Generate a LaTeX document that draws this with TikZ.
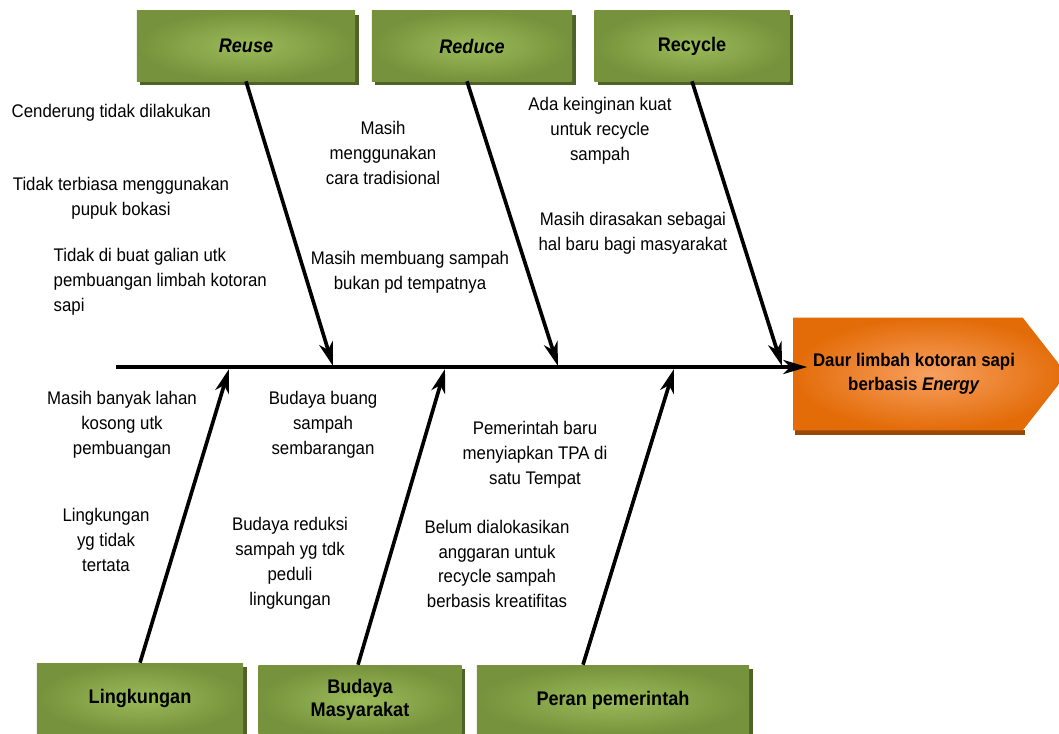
\documentclass[tikz,border=0pt]{standalone}
\usepackage{fontspec}
\setmainfont[FakeStretch=0.92]{Liberation Sans}
\usetikzlibrary{arrows.meta,calc,shadows,backgrounds}
\definecolor{boxGreen}{HTML}{9BBB59}
\definecolor{boxGreenDark}{HTML}{76923C}
\definecolor{boxGreenShadow}{HTML}{4F6228}
\definecolor{headOrange}{HTML}{F8A060}
\definecolor{headOrangeDark}{HTML}{E36C09}
\definecolor{headShadow}{HTML}{984807}
\tikzset{
  bone/.style={-{Stealth[length=17pt,width=10pt,inset=5pt]}, line width=2.6pt,
    draw=black},
  cause box/.style={inner color=boxGreen, outer color=boxGreenDark,
    minimum height=1.75cm, align=center, inner sep=2pt,
    font=\fontsize{14}{16}\selectfont\bfseries,
    general shadow={fill=boxGreenShadow, shadow xshift=2.5pt,
      shadow yshift=-3pt}},
  effect head/.style={minimum width=5.725cm, minimum height=2.8cm,
    align=center, inner sep=0pt, font=\fontsize{13}{17}\selectfont\bfseries},
  note/.style={align=center, inner sep=1pt,
    font=\fontsize{13}{17.7}\selectfont},
  note left/.style={note, align=left}
}
\begin{document}
\begin{tikzpicture}[x=0.025cm, y=-0.025cm]
  \useasboundingbox (0,0) rectangle (1059,733);
  % category boxes
  \node[cause box, minimum width=5.45cm] (reuse) at (246,46) {\textit{Reuse}};
  \node[cause box, minimum width=5cm] (reduce) at (472,46) {\textit{Reduce}};
  \node[cause box, minimum width=4.875cm] (recycle) at (692,46) {Recycle};
  \node[cause box, minimum width=5.15cm] (lingkungan) at (140,698) {Lingkungan};
  \node[cause box, minimum width=5.075cm] (budaya) at (360,700)
    {Budaya\\Masyarakat};
  \node[cause box, minimum width=6.8cm] (peran) at (613,700)
    {Peran pemerintah};
  % effect
  \node[effect head] (head) at (908,374)
    {\hspace*{0.3cm}Daur limbah kotoran sapi\\\hspace*{0.3cm}berbasis \textit{Energy}};
  \begin{scope}[on background layer]
    \fill[headShadow] ($(head.south west)+(2,0)$) rectangle
      ($(head.south east)+(2,5)$);
    \path[inner color=headOrange, outer color=headOrangeDark]
      (head.north west) -- (head.north east) -- ($(head.east)+(44,0)$)
      -- (head.south east) -- (head.south west) -- cycle;
  \end{scope}
  % spine and bones
  \coordinate (tail) at (116,367);
  \coordinate (r1) at (333,366);
  \coordinate (r2) at (558,366);
  \coordinate (r3) at (782,366);
  \coordinate (b1) at (229,369);
  \coordinate (b2) at (445,369);
  \coordinate (b3) at (674,369);
  \draw[bone, shorten >=-0.35cm] (tail) -- (head.west |- tail);
  \draw[bone] (reuse.south) -- (r1);
  \draw[bone] ([xshift=-0.125cm]reduce.south) -- (r2);
  \draw[bone] (recycle.south) -- (r3);
  \draw[bone] (lingkungan.north) -- (b1);
  \draw[bone] ([xshift=-0.05cm]budaya.north) -- (b2);
  \draw[bone] ([xshift=-0.75cm]peran.north) -- (b3);
  % causes
  \node[note, anchor=west] (reuse1) at (10,113) {Cenderung tidak dilakukan};
  \node[note] (reuse2) at (121,198) {Tidak terbiasa menggunakan\\pupuk bokasi};
  \node[note left, anchor=west] (reuse3) at (52,282)
    {Tidak di buat galian utk\\pembuangan limbah kotoran\\sapi};
  \node[note] (reduce1) at (383,153) {Masih\\menggunakan\\cara tradisional};
  \node[note] (reduce2) at (410,272)
    {Masih membuang sampah\\bukan pd tempatnya};
  \node[note] (recycle1) at (600,131) {Ada keinginan kuat\\untuk recycle\\sampah};
  \node[note] (recycle2) at (633,233)
    {Masih dirasakan sebagai\\hal baru bagi masyarakat};
  \node[note] (ling1) at (122,425) {Masih banyak lahan\\kosong utk\\pembuangan};
  \node[note] (ling2) at (106,540) {Lingkungan\\yg tidak\\tertata};
  \node[note] (budaya1) at (323,425) {Budaya buang\\sampah\\sembarangan};
  \node[note] (budaya2) at (290,563)
    {Budaya reduksi\\sampah yg tdk\\peduli\\lingkungan};
  \node[note] (peran1) at (535,455)
    {Pemerintah baru\\menyiapkan TPA di\\satu Tempat};
  \node[note] (peran2) at (497,564)
    {Belum dialokasikan\\anggaran untuk\\recycle sampah\\berbasis kreatifitas};
\end{tikzpicture}
\end{document}
